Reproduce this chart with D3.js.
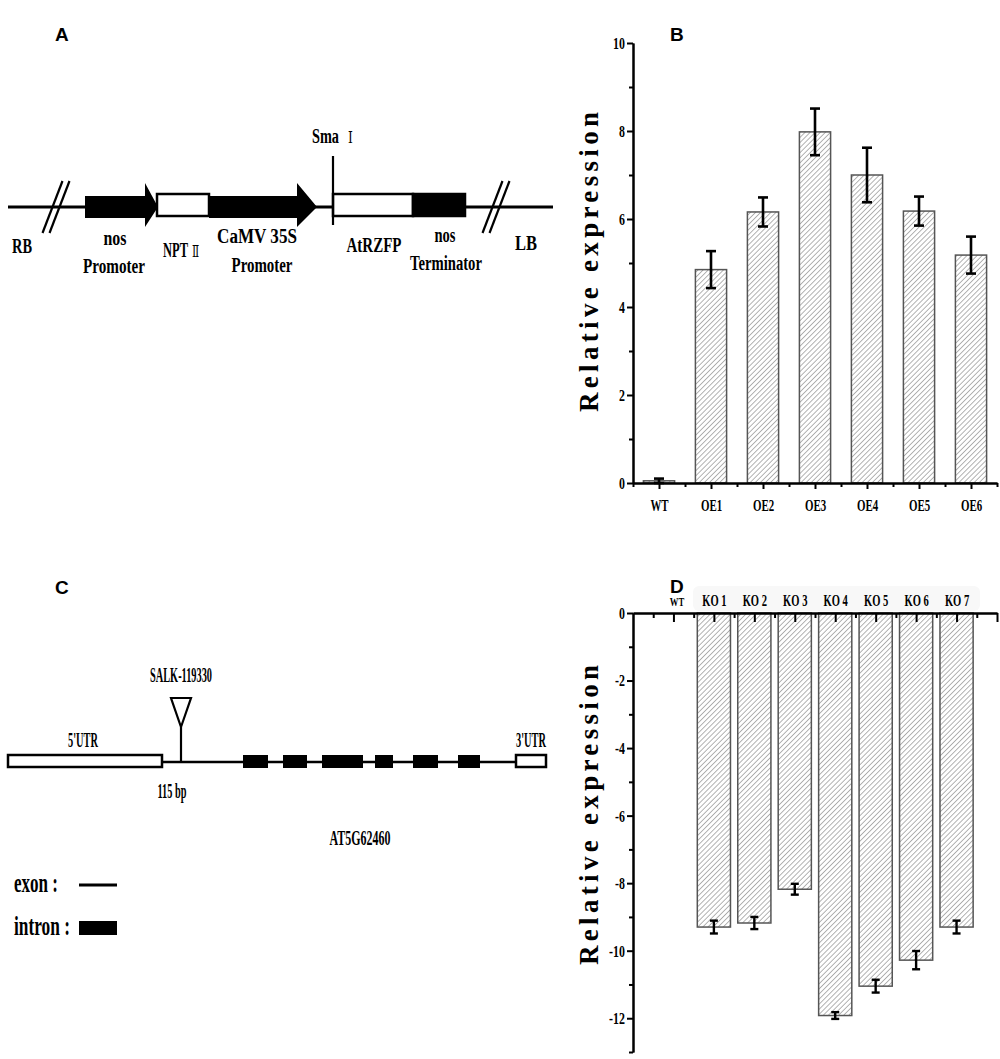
<!DOCTYPE html>
<html>
<head>
<meta charset="utf-8">
<script src="https://cdn.jsdelivr.net/npm/d3@7"></script>
<style>
  body { margin: 0; background: #fff; }
  svg { display: block; }
</style>
</head>
<body>
<svg id="fig" width="1000" height="1059"></svg>
<script>
// ---- data ----
const oeGroups = ["WT", "OE1", "OE2", "OE3", "OE4", "OE5", "OE6"];
const oeMeans = [0.05, 4.85, 6.16, 7.98, 7.0, 6.18, 5.18];
const oeErr = [0.05, 0.42, 0.33, 0.53, 0.62, 0.33, 0.42];
const oeTicks = [0, 2, 4, 6, 8, 10];
const oeMinor = [1, 3, 5, 7, 9];

const koGroups = ["WT", "KO 1", "KO 2", "KO 3", "KO 4", "KO 5", "KO 6", "KO 7"];
const koMeans = [0, -9.3, -9.18, -8.18, -11.92, -11.05, -10.28, -9.3];
const koErr = [0, 0.19, 0.18, 0.16, 0.1, 0.19, 0.27, 0.19];
const koTicks = [0, -2, -4, -6, -8, -10, -12];
const koMinor = [-1, -3, -5, -7, -9, -11, -13];

// T-DNA construct (panel A), positions in construct units
const constructParts = [
  { name: "nos promoter", kind: "arrow", start: 77, end: 150, head: 13, fill: "#000" },
  { name: "NPT II", kind: "box", start: 149, end: 201, fill: "#fff" },
  { name: "CaMV 35S promoter", kind: "arrow", start: 201, end: 309, head: 20, fill: "#000" },
  { name: "AtRZFP", kind: "box", start: 325, end: 405, fill: "#fff" },
  { name: "nos terminator", kind: "box", start: 405, end: 457, fill: "#000" }
];
const constructBreaks = [48, 488];
const smaSite = 325;

// gene model (panel C), positions in gene units
const utr5 = [0, 154];
const utr3 = [508, 538];
const blocks = [[235, 260], [275, 299], [314, 355], [367, 385], [405, 430], [450, 472]];
const insertSite = 173;

const serif = "'Liberation Serif', 'Times New Roman', serif";
const sans = "'Liberation Sans', Arial, sans-serif";
const roman = "'DejaVu Serif', 'Noto Sans CJK SC', serif";

const svg = d3.select("#fig");

// hatch for bars
const pat = svg.append("defs").append("pattern")
  .attr("id", "hatch").attr("patternUnits", "userSpaceOnUse")
  .attr("width", 3.6).attr("height", 3.6).attr("patternTransform", "rotate(45)");
pat.append("rect").attr("width", 3.6).attr("height", 3.6).attr("fill", "#fff");
pat.append("line").attr("x1", 0).attr("y1", 0).attr("x2", 0).attr("y2", 3.6)
  .attr("stroke", "#8a8a8a").attr("stroke-width", 1.3);

// condensed serif text: squeeze horizontally to width w
function label(g, x, y, txt, w, size, anchor) {
  const t = g.append("text")
    .attr("text-anchor", anchor || "middle")
    .attr("font-family", serif).attr("font-weight", "bold")
    .attr("font-size", size || 20)
    .text(txt);
  const nat = t.node().getComputedTextLength();
  t.attr("transform", `translate(${x},${y}) scale(${w / nat},1)`);
  return t;
}

// text with a trailing roman numeral (NPT Ⅱ, Sma Ⅰ)
function romanLabel(g, x, y, word, w, numeral, gap) {
  const t = g.append("text").attr("font-family", serif).attr("font-weight", "bold").attr("font-size", 20);
  t.append("tspan").text(word);
  const nat = t.node().getComputedTextLength();
  const s = w / nat;
  t.append("tspan").attr("dx", gap / s).attr("font-family", roman).attr("font-weight", "normal")
    .attr("font-size", 17).text(numeral);
  t.attr("transform", `translate(${x},${y}) scale(${s},1)`);
  return t;
}

// panel letters
[["A", 55, 41], ["B", 670, 41], ["C", 55, 594], ["D", 670, 593]].forEach(d => {
  svg.append("text").attr("x", d[1]).attr("y", d[2])
    .attr("font-family", sans).attr("font-weight", "bold").attr("font-size", 19)
    .text(d[0]);
});

// ---------- Panel A ----------
const gA = svg.append("g");
const xA = d3.scaleLinear().domain([0, 545]).range([8, 553]);
const yA = 207;

gA.append("line").attr("x1", xA(0)).attr("x2", xA(545)).attr("y1", yA).attr("y2", yA)
  .attr("stroke", "#000").attr("stroke-width", 3);

constructBreaks.forEach(b => {
  [-3.5, 3.5].forEach(o => {
    gA.append("line")
      .attr("x1", xA(b + o) - 10).attr("y1", yA + 26)
      .attr("x2", xA(b + o) + 10).attr("y2", yA - 26)
      .attr("stroke", "#000").attr("stroke-width", 2.2);
  });
});

constructParts.forEach(p => {
  const x0 = xA(p.start), x1 = xA(p.end);
  if (p.kind === "arrow") {
    const hb = x1 - p.head;
    gA.append("path")
      .attr("d", `M${x0},${yA - 11}L${hb},${yA - 11}L${hb},${yA - 24}L${x1},${yA}L${hb},${yA + 20}L${hb},${yA + 11}L${x0},${yA + 11}Z`)
      .attr("fill", p.fill);
  } else {
    gA.append("rect").attr("x", x0).attr("y", yA - 13).attr("width", x1 - x0).attr("height", 22)
      .attr("fill", p.fill).attr("stroke", "#000").attr("stroke-width", 2.5);
  }
});

gA.append("line").attr("x1", xA(smaSite)).attr("x2", xA(smaSite))
  .attr("y1", 156).attr("y2", 225).attr("stroke", "#000").attr("stroke-width", 2.2);

label(gA, 22, 253, "RB", 20);
label(gA, 115, 245, "nos", 23);
label(gA, 114, 273, "Promoter", 62);
romanLabel(gA, 163, 257, "NPT", 25, "Ⅱ", 4);
label(gA, 257, 243, "CaMV 35S", 80);
label(gA, 262, 272, "Promoter", 61);
romanLabel(gA, 312, 143, "Sma", 27, "Ⅰ", 9);
label(gA, 374, 252, "AtRZFP", 55);
label(gA, 445, 242, "nos", 21);
label(gA, 446, 270, "Terminator", 72);
label(gA, 526, 250, "LB", 22);

// ---------- Panel C ----------
const gC = svg.append("g");
const xC = d3.scaleLinear().domain([0, 538]).range([8, 546]);
const yC = 762;

gC.append("line").attr("x1", xC(utr5[1])).attr("x2", xC(utr3[0])).attr("y1", yC).attr("y2", yC)
  .attr("stroke", "#000").attr("stroke-width", 2.5);
[utr5, utr3].forEach(u => {
  gC.append("rect").attr("x", xC(u[0])).attr("y", yC - 7).attr("width", xC(u[1]) - xC(u[0])).attr("height", 12)
    .attr("fill", "#fff").attr("stroke", "#000").attr("stroke-width", 2.5);
});
gC.selectAll("rect.blk").data(blocks).join("rect").attr("class", "blk")
  .attr("x", d => xC(d[0])).attr("width", d => xC(d[1]) - xC(d[0]))
  .attr("y", yC - 7).attr("height", 13).attr("fill", "#000");

const xi = xC(insertSite);
gC.append("line").attr("x1", xi).attr("x2", xi).attr("y1", yC).attr("y2", 727)
  .attr("stroke", "#000").attr("stroke-width", 2.2);
gC.append("path").attr("d", `M${xi - 10},698L${xi + 10},698L${xi},727Z`)
  .attr("fill", "#fff").attr("stroke", "#000").attr("stroke-width", 2.2);

label(gC, 181, 682, "SALK-119330", 62, 20);
label(gC, 83, 747, "5'UTR", 30, 20);
label(gC, 172, 798, "115 bp", 29, 20);
label(gC, 531, 747, "3'UTR", 30, 20);
label(gC, 360, 845, "AT5G62460", 61, 20);

label(gC, 14, 892, "exon :", 44, 27, "start");
label(gC, 14, 935, "intron :", 56, 27, "start");
gC.append("line").attr("x1", 79).attr("x2", 117).attr("y1", 885).attr("y2", 885)
  .attr("stroke", "#000").attr("stroke-width", 3);
gC.append("rect").attr("x", 79).attr("y", 921).attr("width", 38).attr("height", 14).attr("fill", "#000");

// ---------- axis styling ----------
function styleAxis(g, size, sx) {
  g.select(".domain").attr("stroke", "#000").attr("stroke-width", 2);
  g.selectAll(".tick line").attr("stroke", "#000").attr("stroke-width", 2);
  g.selectAll(".tick text").attr("font-family", serif).attr("font-weight", "bold")
    .attr("font-size", size).attr("fill", "#000").attr("transform", `scale(${sx},1)`);
}

function yTitle(cy) {
  svg.append("text")
    .attr("transform", `translate(598,${cy}) rotate(-90)`)
    .attr("text-anchor", "middle")
    .attr("font-family", serif).attr("font-weight", "bold").attr("font-size", 27)
    .attr("textLength", 300).attr("lengthAdjust", "spacing")
    .text("Relative expression");
}

// ---------- Panel B ----------
const xB = d3.scaleLinear().domain([0.5, 7.5]).range([633, 997]);
const yB = d3.scaleLinear().domain([0, 10]).range([483, 43]);
const bwB = 0.6;

const gB = svg.append("g");
gB.selectAll("rect.bar").data(oeMeans).join("rect").attr("class", "bar")
  .attr("x", (d, i) => xB(i + 1 - bwB / 2))
  .attr("width", xB(1 + bwB) - xB(1))
  .attr("y", d => yB(d)).attr("height", d => yB(0) - yB(d))
  .attr("fill", "url(#hatch)").attr("stroke", "#555").attr("stroke-width", 1.5);

const ebB = gB.selectAll("g.eb").data(oeMeans).join("g").attr("class", "eb");
ebB.append("line").attr("x1", (d, i) => xB(i + 1)).attr("x2", (d, i) => xB(i + 1))
  .attr("y1", (d, i) => yB(d - oeErr[i])).attr("y2", (d, i) => yB(d + oeErr[i]));
[1, -1].forEach(s => {
  ebB.append("line")
    .attr("x1", (d, i) => xB(i + 1) - 5).attr("x2", (d, i) => xB(i + 1) + 5)
    .attr("y1", (d, i) => yB(d + s * oeErr[i])).attr("y2", (d, i) => yB(d + s * oeErr[i]));
});
ebB.selectAll("line").attr("stroke", "#000").attr("stroke-width", 2.6);

const axYB = svg.append("g").attr("transform", `translate(${xB(0.5)},0)`)
  .call(d3.axisLeft(yB).tickValues(oeTicks).tickSize(6).tickSizeOuter(0).tickPadding(5.5).tickFormat(d => String(d)));
styleAxis(axYB, 17, 0.7);
const axYBm = svg.append("g").attr("transform", `translate(${xB(0.5)},0)`)
  .call(d3.axisLeft(yB).tickValues(oeMinor).tickSize(4).tickSizeOuter(0).tickFormat(""));
styleAxis(axYBm, 17, 0.7);

const axXB = svg.append("g").attr("transform", `translate(0,${yB(0)})`)
  .call(d3.axisBottom(xB).tickValues(d3.range(1, 8)).tickSize(6).tickSizeOuter(0).tickPadding(10)
    .tickFormat(i => oeGroups[i - 1]));
styleAxis(axXB, 17, 0.64);
const axXBm = svg.append("g").attr("transform", `translate(0,${yB(0)})`)
  .call(d3.axisBottom(xB).tickValues(d3.range(0.5, 8, 1)).tickSize(4).tickSizeOuter(0).tickFormat(""));
styleAxis(axXBm, 17, 0.64);

yTitle(262);

// ---------- Panel D ----------
const xD = d3.scaleLinear().domain([0, 9]).range([633, 997]);
const yD = d3.scaleLinear().domain([-13, 0]).range([1052, 613]);
const bwD = 0.82;

svg.append("rect").attr("x", 693).attr("y", 586).attr("width", 287).attr("height", 25)
  .attr("rx", 6).attr("fill", "#f8f8f8");

const gD = svg.append("g");
gD.selectAll("rect.bar").data(koMeans).join("rect").attr("class", "bar")
  .attr("x", (d, i) => xD(i + 1 - bwD / 2))
  .attr("width", xD(1 + bwD) - xD(1))
  .attr("y", yD(0)).attr("height", d => yD(d) - yD(0))
  .attr("fill", "url(#hatch)").attr("stroke", "#555").attr("stroke-width", 1.5)
  .attr("display", d => d === 0 ? "none" : null);

const ebD = gD.selectAll("g.eb").data(koMeans).join("g").attr("class", "eb")
  .attr("display", (d, i) => koErr[i] === 0 ? "none" : null);
ebD.append("line").attr("x1", (d, i) => xD(i + 1)).attr("x2", (d, i) => xD(i + 1))
  .attr("y1", (d, i) => yD(d - koErr[i])).attr("y2", (d, i) => yD(d + koErr[i]));
[1, -1].forEach(s => {
  ebD.append("line")
    .attr("x1", (d, i) => xD(i + 1) - 4).attr("x2", (d, i) => xD(i + 1) + 4)
    .attr("y1", (d, i) => yD(d + s * koErr[i])).attr("y2", (d, i) => yD(d + s * koErr[i]));
});
ebD.selectAll("line").attr("stroke", "#000").attr("stroke-width", 2.4);

const axYD = svg.append("g").attr("transform", `translate(${xD(0)},0)`)
  .call(d3.axisLeft(yD).tickValues(koTicks).tickSize(6).tickSizeOuter(0).tickPadding(5.5).tickFormat(d => String(d)));
styleAxis(axYD, 17, 0.7);
const axYDm = svg.append("g").attr("transform", `translate(${xD(0)},0)`)
  .call(d3.axisLeft(yD).tickValues(koMinor).tickSize(4).tickSizeOuter(0).tickFormat(""));
styleAxis(axYDm, 17, 0.7);

const axXD = svg.append("g").attr("transform", `translate(0,${yD(0)})`)
  .call(d3.axisBottom(xD).tickValues(d3.range(1, 10)).tickSize(9).tickSizeOuter(0).tickFormat(""));
styleAxis(axXD, 17, 0.65);
const axXDm = svg.append("g").attr("transform", `translate(0,${yD(0)})`)
  .call(d3.axisBottom(xD).tickValues(d3.range(0.5, 9, 1)).tickSize(5).tickSizeOuter(0).tickFormat(""));
styleAxis(axXDm, 17, 0.65);

const axXDl = svg.append("g").attr("transform", `translate(0,${yD(0)})`)
  .call(d3.axisTop(xD).tickValues(d3.range(1, 9)).tickSize(0).tickPadding(7)
    .tickFormat(i => koGroups[i - 1]));
axXDl.select(".domain").remove();
styleAxis(axXDl, 16, 0.66);
axXDl.selectAll(".tick text").filter(i => i === 1)
  .attr("font-size", 12).attr("transform", "translate(3,0) scale(0.72,1)");

yTitle(815);
</script>
</body>
</html>
